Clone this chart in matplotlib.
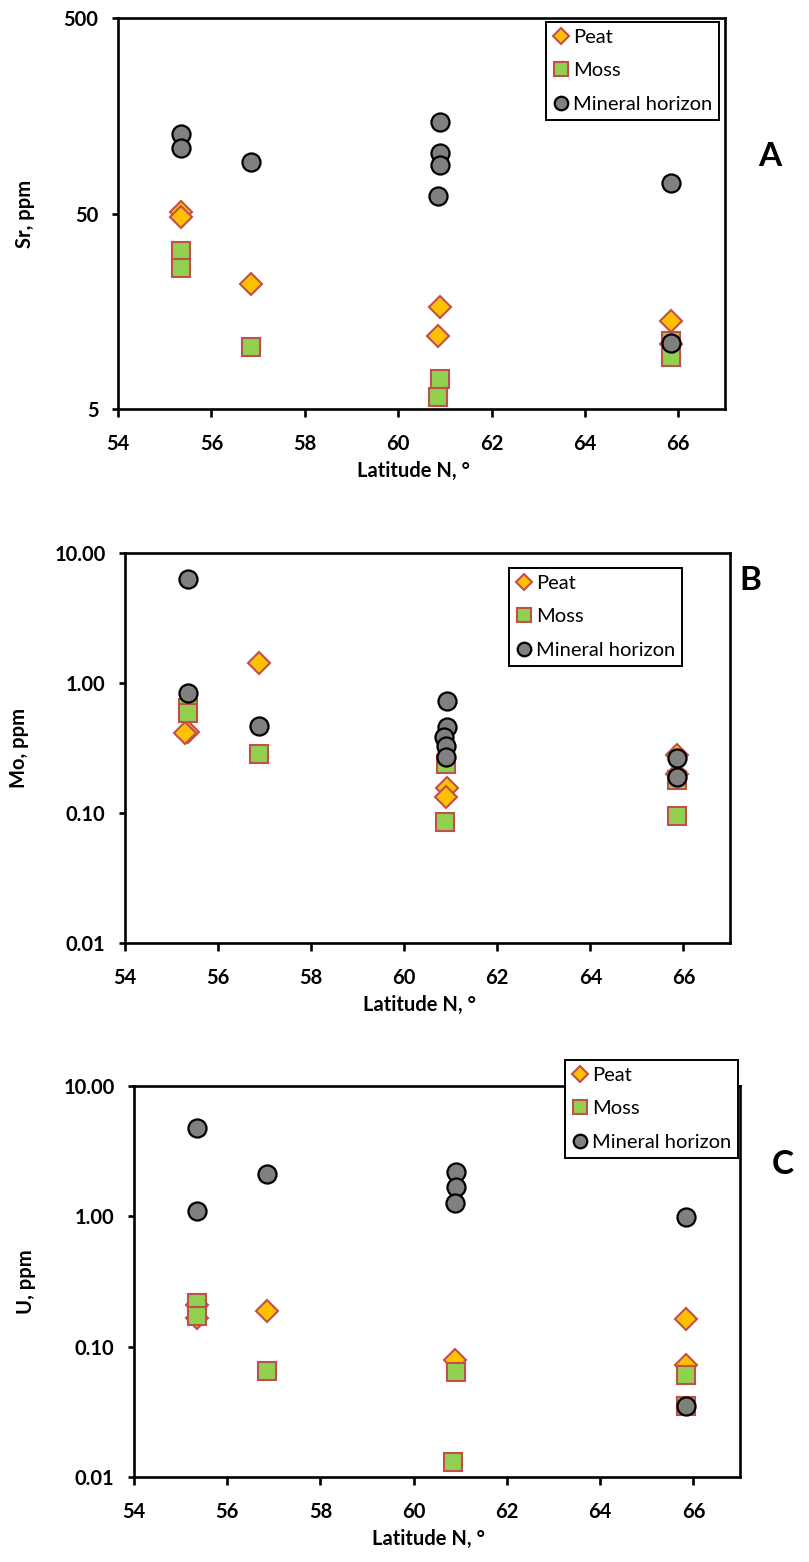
import matplotlib
matplotlib.use("Agg")
import matplotlib.pyplot as plt

plt.rcParams['font.family'] = ['Lato', 'DejaVu Sans']

W, H = 809, 1562

# panel A - Sr, ppm
a_peat_lat = [55.35, 55.35, 56.85, 60.9, 60.85, 65.85, 65.85]
a_peat_val = [50.9, 48.0, 21.8, 16.6, 11.8, 14.1, 10.7]
a_moss_lat = [55.35, 55.35, 56.85, 60.9, 60.85, 65.85, 65.85]
a_moss_val = [32.1, 26.3, 10.4, 7.1, 5.75, 11.2, 9.2]
a_min_lat = [55.35, 55.35, 56.85, 60.9, 60.9, 60.9, 60.85, 65.85, 65.85]
a_min_val = [128, 108, 92, 147, 102, 88.6, 61.5, 71.6, 10.9]

# panel B - Mo, ppm
b_peat_lat = [55.35, 55.3, 56.87, 60.92, 60.9, 65.86, 65.86]
b_peat_val = [0.42, 0.41, 1.43, 0.156, 0.132, 0.28, 0.20]
b_moss_lat = [55.35, 55.35, 56.87, 60.9, 60.88, 65.86, 65.86]
b_moss_val = [0.64, 0.59, 0.284, 0.24, 0.0853, 0.18, 0.095]
b_min_lat = [55.35, 55.35, 56.87, 60.92, 60.92, 60.85, 60.9, 60.9, 65.86, 65.86]
b_min_val = [6.3, 0.84, 0.467, 0.727, 0.458, 0.385, 0.33, 0.27, 0.263, 0.189]

# panel C - U, ppm
c_peat_lat = [55.35, 55.35, 56.85, 60.88, 65.85, 65.85]
c_peat_val = [0.21, 0.165, 0.187, 0.079, 0.163, 0.072]
c_moss_lat = [55.35, 55.35, 56.85, 60.9, 60.85, 65.85, 65.85]
c_moss_val = [0.215, 0.172, 0.065, 0.064, 0.013, 0.0605, 0.035]
c_min_lat = [55.35, 55.35, 56.85, 60.9, 60.9, 60.88, 65.85, 65.85]
c_min_val = [4.76, 1.10, 2.11, 2.19, 1.68, 1.26, 0.99, 0.035]

x_ticks = [54, 56, 58, 60, 62, 64, 66]

panels = [
    dict(box=(118, 725, 18, 409), ylabel='Sr, ppm', ylabel_x=25, ylim=(5, 500),
         yticks=[5, 50, 500], yticklabels=['5', '50', '500'],
         letter='A', letter_xy=(770, 157), leg_xy=(546, 22),
         data=(a_peat_lat, a_peat_val, a_moss_lat, a_moss_val, a_min_lat, a_min_val)),
    dict(box=(125, 730, 553, 943), ylabel='Mo, ppm', ylabel_x=19, ylim=(0.01, 10),
         yticks=[0.01, 0.1, 1, 10], yticklabels=['0.01', '0.10', '1.00', '10.00'],
         letter='B', letter_xy=(750, 580), leg_xy=(509, 568),
         data=(b_peat_lat, b_peat_val, b_moss_lat, b_moss_val, b_min_lat, b_min_val)),
    dict(box=(134, 740, 1086, 1477), ylabel='U, ppm', ylabel_x=26, ylim=(0.01, 10),
         yticks=[0.01, 0.1, 1, 10], yticklabels=['0.01', '0.10', '1.00', '10.00'],
         letter='C', letter_xy=(783, 1165), leg_xy=(565, 1060),
         data=(c_peat_lat, c_peat_val, c_moss_lat, c_moss_val, c_min_lat, c_min_val)),
]

fig = plt.figure(figsize=(W / 100, H / 100), dpi=100)

for p in panels:
    l, r, t, b = p['box']
    ax = fig.add_axes([l / W, 1 - b / H, (r - l) / W, (b - t) / H])
    pl, pv, ml, mv, nl, nv = p['data']

    ax.plot(pl, pv, ls='', marker='D', ms=11, mfc='#FFC000', mec='#C0504D',
            mew=1.5, label='Peat', zorder=3)
    ax.plot(ml, mv, ls='', marker='s', ms=12.5, mfc='#92D050', mec='#C0504D',
            mew=1.5, label='Moss', zorder=4)
    ax.plot(nl, nv, ls='', marker='o', ms=13, mfc='#808080', mec='black',
            mew=1.6, label='Mineral horizon', zorder=5)

    ax.set_yscale('log')
    ax.set_xlim(54, 67)
    ax.set_ylim(*p['ylim'])
    ax.set_xticks(x_ticks)
    ax.set_xticklabels([str(v) for v in x_ticks])
    ax.set_yticks(p['yticks'])
    ax.set_yticklabels(p['yticklabels'])
    ax.minorticks_off()

    for s in ax.spines.values():
        s.set_linewidth(1.9)
    ax.tick_params(axis='x', direction='out', length=6, width=1.9, pad=12,
                   labelsize=14.5)
    ax.tick_params(axis='y', direction='out', length=4, width=1.9, pad=10,
                   labelsize=14.5)
    for lab in ax.get_xticklabels() + ax.get_yticklabels():
        lab.set_fontweight('bold')

    # axis titles placed in figure pixels
    fig.text(p['ylabel_x'] / W, 1 - ((t + b) / 2) / H, p['ylabel'],
             fontsize=14.5, fontweight='bold', rotation=90,
             ha='center', va='center')
    fig.text(((l + r) / 2 - 8) / W, 1 - (b + 62) / H, 'Latitude N, °',
             fontsize=14.5, fontweight='bold', ha='center', va='center')

    lx, ly = p['leg_xy']
    leg = ax.legend(loc='upper left', bbox_to_anchor=(lx / W, 1 - ly / H),
                    bbox_transform=fig.transFigure, borderaxespad=0,
                    fontsize=14.5, markerscale=0.75, handlelength=0.8,
                    handletextpad=0.2, labelspacing=0.8, borderpad=0.35,
                    fancybox=False, framealpha=1, edgecolor='black')
    leg.get_frame().set_linewidth(1.4)
    leg.set_zorder(10)

    fig.text(p['letter_xy'][0] / W, 1 - p['letter_xy'][1] / H, p['letter'],
             fontsize=24, fontweight='bold', ha='center', va='center')

fig.savefig('out.png', dpi=100)
